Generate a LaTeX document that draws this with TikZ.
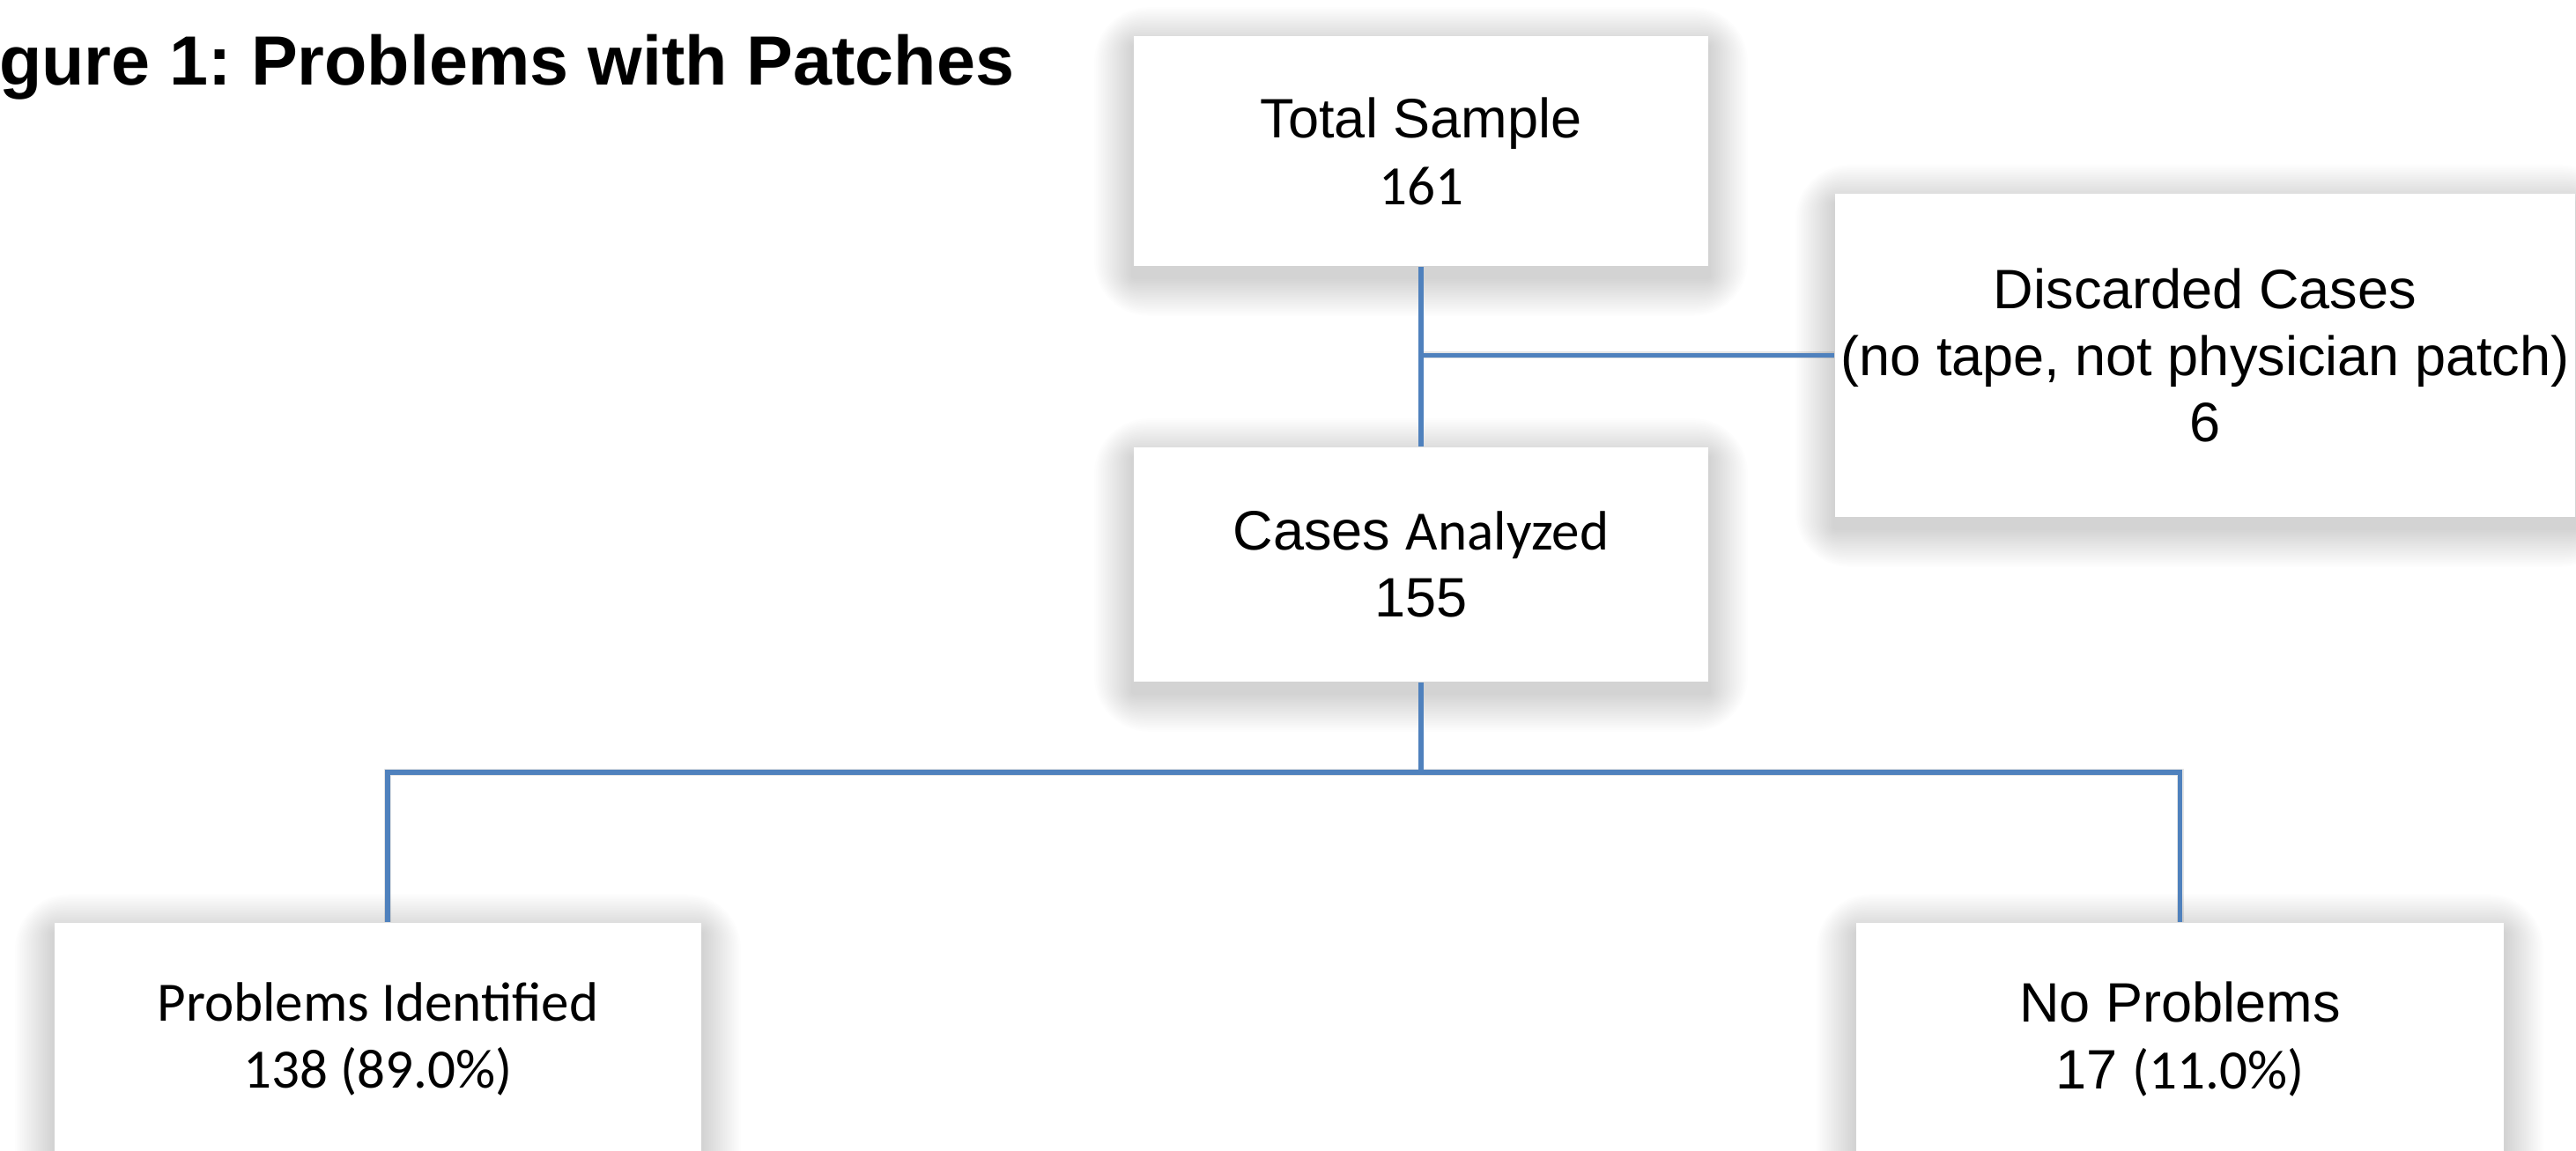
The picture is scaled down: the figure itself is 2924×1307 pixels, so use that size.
\documentclass[tikz,border=0pt]{standalone}
\usepackage{fontspec}
\setmainfont{Liberation Sans}
\newfontfamily\calfont{Carlito}
\usetikzlibrary{calc,backgrounds}
\definecolor{linkblue}{RGB}{79,129,189}
\newcommand\fsz{\fontsize{17.93pt}{21.6pt}\selectfont}
\frenchspacing
\begin{document}
\begin{tikzpicture}[x=0.01cm,y=-0.01cm,
  box/.style={draw=none,fill=white,inner sep=0pt,align=center,font=\fsz},
  conn/.style={draw=linkblue,line width=0.052cm},
  connshadow/.style={draw=black,opacity=0.10,line width=0.08cm},
  titlestyle/.style={anchor=base east,inner sep=0pt,font=\bfseries\fontsize{22.5pt}{27pt}\selectfont}
  ]
\useasboundingbox (0,0) rectangle (2924,1307);
\clip (0,0) rectangle (2924,1307);

\node[titlestyle] (title) at (1152,97) {Figure 1: Problems with Patches};

\node[box,minimum width=6.52cm,minimum height=2.61cm] (ts) at (1613,171.5) {Total Sample\\{\calfont 161}};
\node[box,minimum width=8.40cm,minimum height=3.67cm] (dc) at (2503,403.5) {Discarded Cases\\(no tape, not physician patch)\\6};
\node[box,minimum width=6.52cm,minimum height=2.66cm] (ca) at (1613,641) {Cases {\calfont Analyzed}\\155};
\node[box,font=\calfont\fsz,minimum width=7.34cm,minimum height=2.64cm] (pi) at (429,1180) {Problems Identified\\138 (89.0\%)};
\node[box,minimum width=7.35cm,minimum height=2.64cm] (np) at (2474.5,1180) {No Problems\\17 {\calfont (11.0\%)}};

\coordinate (j) at (1613,877);
\coordinate (pitop) at ([xshift=0.11cm]pi.north);

\begin{scope}[on background layer]
  \fill[white] (0,0) rectangle (2924,1307);
  \foreach \n in {ts,dc,ca,pi,np}{
    \foreach \d in {2,4,...,44}{
      \fill[black,opacity=0.0085,rounded corners=\d*0.4pt] ($(\n.north west)+(-\d,-\d+12)$) rectangle ($(\n.south east)+(\d,\d+12)$);
    }
  }
  \begin{scope}[shift={(3,6)}]
    \draw[connshadow] (ts.south |- dc.west) -- (dc.west);
    \draw[connshadow] (pitop) |- (j);
    \draw[connshadow] (np.north) |- (j);
  \end{scope}
\end{scope}

\draw[conn] (ts.south) -- (ca.north);
\draw[conn] (ts.south |- dc.west) -- (dc.west);
\draw[conn] (ca.south) -- (j);
\draw[conn] (pitop) |- (j);
\draw[conn] (np.north) |- (j);
\end{tikzpicture}
\end{document}
